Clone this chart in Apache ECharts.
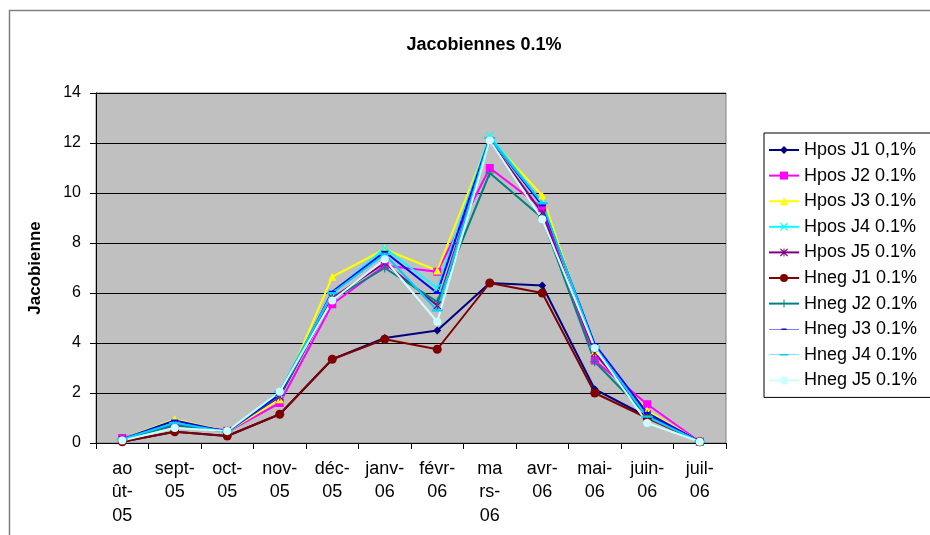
<!DOCTYPE html>
<html>
<head>
<meta charset="utf-8">
<script src="https://cdn.jsdelivr.net/npm/echarts@6/dist/echarts.min.js"></script>
<style>
html,body{margin:0;padding:0;background:#fff;}
#c{width:930px;height:535px;}
</style>
</head>
<body>
<div id="c"></div>
<script>
var categories = ['ao\nût-\n05','sept-\n05','oct-\n05','nov-\n05','déc-\n05','janv-\n06','févr-\n06','ma\nrs-\n06','avr-\n06','mai-\n06','juin-\n06','juil-\n06'];
var yTicks = [0, 2, 4, 6, 8, 10, 12, 14];

var seriesNames = ['Hpos J1 0,1%','Hpos J2 0.1%','Hpos J3 0.1%','Hpos J4 0.1%','Hpos J5 0.1%','Hneg J1 0.1%','Hneg J2 0.1%','Hneg J3 0.1%','Hneg J4 0.1%','Hneg J5 0.1%'];

var hposJ1 = [0.05, 0.45, 0.28, 1.15, 3.35, 4.2, 4.5, 6.4, 6.3, 2.15, 1.05, 0.05];
var hposJ2 = [0.2, 0.75, 0.45, 1.6, 5.55, 7.1, 6.85, 11.0, 9.4, 3.3, 1.55, 0.05];
var hposJ3 = [0.15, 0.95, 0.45, 1.75, 6.65, 7.75, 6.9, 12.2, 9.9, 3.65, 1.3, 0.05];
var hposJ4 = [0.15, 0.8, 0.45, 2.0, 6.0, 7.8, 6.2, 12.3, 9.6, 3.8, 1.1, 0.05];
var hposJ5 = [0.15, 0.75, 0.5, 1.85, 5.8, 7.2, 5.5, 12.1, 9.2, 3.6, 1.15, 0.05];
var hnegJ1 = [0.05, 0.45, 0.28, 1.15, 3.35, 4.15, 3.75, 6.4, 6.0, 2.0, 1.0, 0.05];
var hnegJ2 = [0.15, 0.7, 0.45, 1.9, 5.75, 7.0, 5.65, 10.8, 9.0, 3.25, 1.1, 0.05];
var hnegJ3 = [0.15, 0.9, 0.45, 1.95, 6.05, 7.65, 6.0, 12.2, 9.5, 3.95, 1.2, 0.05];
var hnegJ4 = [0.15, 0.8, 0.45, 2.05, 6.0, 7.55, 5.3, 12.2, 9.6, 3.85, 1.05, 0.05];
var hnegJ5 = [0.1, 0.6, 0.48, 2.05, 5.7, 7.35, 4.85, 12.1, 8.95, 3.8, 0.8, 0.05];

var seriesData = [hposJ1, hposJ2, hposJ3, hposJ4, hposJ5, hnegJ1, hnegJ2, hnegJ3, hnegJ4, hnegJ5];
var colors = ['#000080','#FF00FF','#FFFF00','#00FFFF','#800080','#800000','#008080','#0000FF','#00CCFF','#CCFFFF'];

var X_PATH = 'path://M0,1L1,0L5,4L9,0L10,1L6,5L10,9L9,10L5,6L1,10L0,9L4,5Z';
var STAR_PATH = 'path://M0,1L1,0L4.4,3.4L4.4,0L5.6,0L5.6,3.4L9,0L10,1L6,5L10,9L9,10L5.6,6.6L5.6,10L4.4,10L4.4,6.6L1,10L0,9L4,5Z';
var PLUS_PATH = 'path://M4.4,0H5.6V4.4H10V5.6H5.6V10H4.4V5.6H0V4.4H4.4Z';
var DASH_PATH = 'path://M0,0H10V2H0Z';
var symbols = ['diamond','rect','triangle',X_PATH,STAR_PATH,'circle',PLUS_PATH,DASH_PATH,DASH_PATH,'circle'];
var symbolSizes = [8,8,8,8,8,9,9,[7,2],[11,2],8];

var legendIcons = [null,null,null,null,null,null,null,
  'path://M0,9.5H60V10.5H0ZM25,8.6H35V11.4H25Z',
  'path://M0,9.5H60V10.5H0ZM21,8.6H39V11.4H21Z',
  null];

var series = seriesNames.map(function(name, i){
  return {
    name: name,
    type: 'line',
    data: seriesData[i],
    symbol: symbols[i],
    symbolSize: symbolSizes[i],
    showAllSymbol: true,
    lineStyle: {color: colors[i], width: 2},
    itemStyle: {color: colors[i], borderWidth: 0},
    emphasis: {disabled: true},
    animation: false
  };
});

var legendData = seriesNames.map(function(name, i){
  var d = {name: name};
  if (legendIcons[i]) { d.icon = legendIcons[i]; }
  return d;
});

var chart = echarts.init(document.getElementById('c'), null, {renderer: 'canvas'});
chart.setOption({
  animation: false,
  backgroundColor: '#ffffff',
  textStyle: {fontFamily: 'Liberation Sans, Arial, sans-serif'},
  title: {
    text: 'Jacobiennes 0.1%',
    left: 479, top: 31, textAlign: 'center',
    textStyle: {fontSize: 18, fontWeight: 'bold', color: '#000', fontFamily: 'Liberation Sans, Arial, sans-serif'}
  },
  legend: {
    orient: 'vertical',
    left: 764, top: 133,
    padding: [7, 40, 7, 4],
    itemGap: 5.6,
    itemWidth: 30, itemHeight: 10,
    backgroundColor: '#ffffff',
    borderColor: '#000000', borderWidth: 1,
    textStyle: {fontSize: 18, lineHeight: 20, color: '#000', fontFamily: 'Liberation Sans, Arial, sans-serif'},
    data: legendData
  },
  grid: {
    left: 96, right: 204, top: 93, bottom: 92,
    show: true, backgroundColor: '#C0C0C0', borderColor: '#808080', borderWidth: 1
  },
  xAxis: {
    type: 'category',
    data: categories,
    boundaryGap: true,
    axisLine: {lineStyle: {color: '#000', width: 1}},
    axisTick: {show: true, length: 6, lineStyle: {color: '#000'}},
    axisLabel: {interval: 0, fontSize: 18, lineHeight: 23.5, color: '#000', margin: 14, verticalAlign: 'top'}
  },
  yAxis: {
    type: 'value',
    min: yTicks[0], max: yTicks[yTicks.length-1], interval: 2,
    name: 'Jacobienne',
    nameLocation: 'middle',
    nameGap: 52,
    nameRotate: 90,
    nameTextStyle: {fontSize: 17, fontWeight: 'bold', color: '#000'},
    axisLine: {show: true, lineStyle: {color: '#000', width: 1}},
    axisTick: {show: true, length: 6, lineStyle: {color: '#000'}},
    axisLabel: {fontSize: 16, color: '#000', margin: 15},
    splitLine: {show: true, lineStyle: {color: '#000', width: 1}}
  },
  graphic: [{
    type: 'rect',
    shape: {x: 9.5, y: 10.5, width: 1000, height: 1000},
    style: {fill: 'none', stroke: '#808080', lineWidth: 1.5},
    silent: true, z: -1
  }],
  series: series
});
</script>
</body>
</html>
